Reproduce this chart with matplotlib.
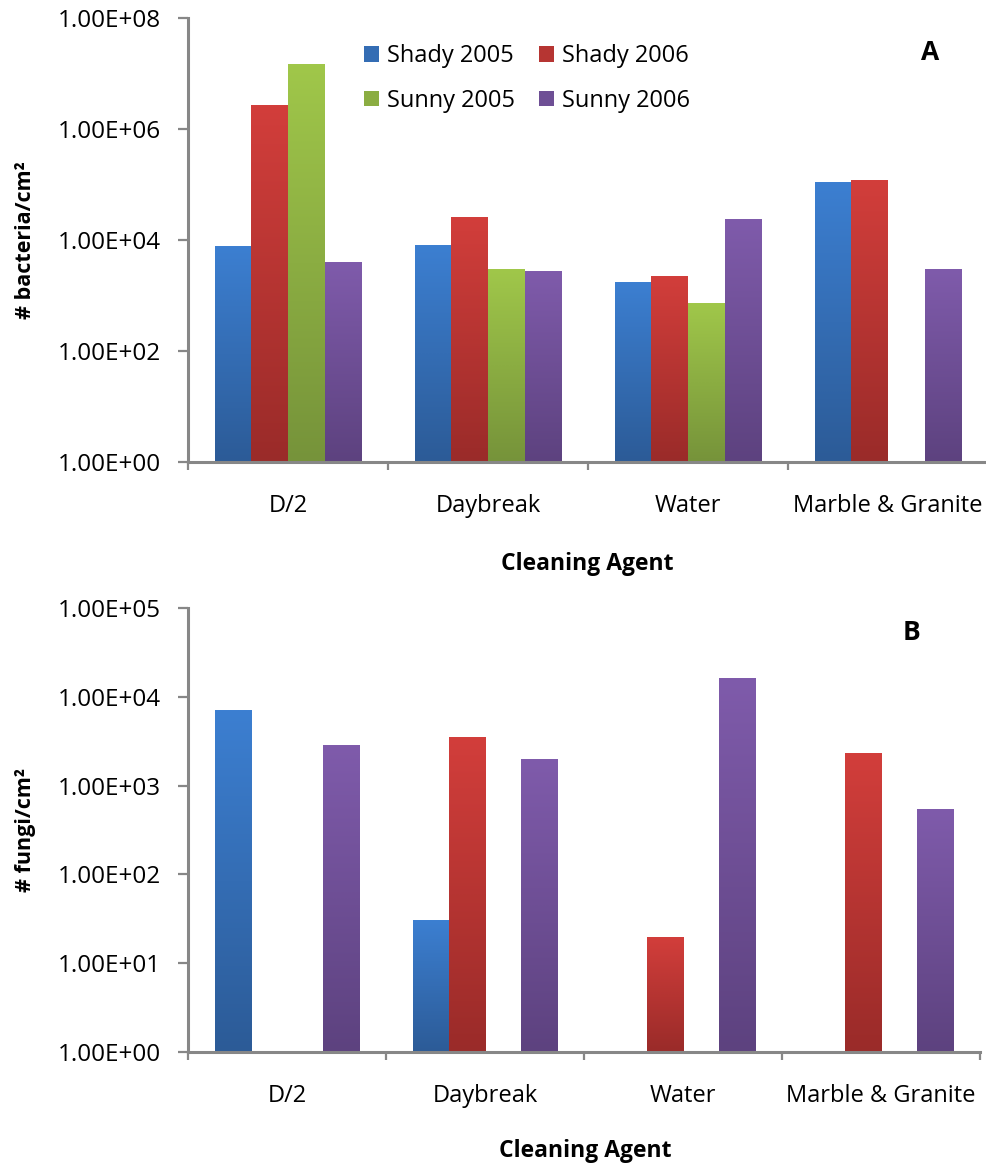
import numpy as np
import matplotlib
matplotlib.use("Agg")
import matplotlib.pyplot as plt
from matplotlib.image import AxesImage
from matplotlib.transforms import BboxTransformTo, TransformedBbox
from matplotlib.ticker import FixedLocator, FuncFormatter, NullFormatter
from matplotlib.colors import to_rgb

plt.rcParams['font.family'] = ['Open Sans', 'DejaVu Sans']

categories = ["D/2", "Daybreak", "Water", "Marble & Granite"]
series = ["Shady 2005", "Shady 2006", "Sunny 2005", "Sunny 2006"]

# bacteria per cm^2 (nan = no bar)
bacteria = {
    "Shady 2005": [7.5e3, 8.1e3, 1.7e3, 1.07e5],
    "Shady 2006": [2.6e6, 2.5e4, 2.2e3, 1.16e5],
    "Sunny 2005": [1.48e7, 2.9e3, 7.3e2, np.nan],
    "Sunny 2006": [4.0e3, 2.7e3, 2.3e4, 2.9e3],
}

# fungi per cm^2 (nan = no bar)
fungi = {
    "Shady 2005": [7.1e3, 30.6, np.nan, np.nan],
    "Shady 2006": [np.nan, 3.5e3, 19.7, 2.3e3],
    "Sunny 2005": [np.nan, np.nan, np.nan, np.nan],
    "Sunny 2006": [2.8e3, 1.95e3, 1.6e4, 535],
}

# (top colour, bottom colour) for each series' vertical gradient
gradients = {
    "Shady 2005": ("#3c7fd1", "#2c5b97"),
    "Shady 2006": ("#d23e3b", "#9a2b29"),
    "Sunny 2005": ("#a0c74a", "#76933a"),
    "Sunny 2006": ("#7f5bab", "#5d427f"),
}

AXIS_GREY = "#878787"
W, H = 987, 1167
TICK_FS = 17.5
CAT_FS = 17
LEGEND_FS = 17
YLABEL_FS = 15.5
XLABEL_FS = 16.5


def gradient_image(top, bottom, n=128):
    t = np.linspace(0, 1, n)[:, None]
    c0 = np.array(to_rgb(top))
    c1 = np.array(to_rgb(bottom))
    return (c0 * (1 - t) + c1 * t)[:, None, :]


def draw_panel(ax, data, ymax_exp, tick_step, ylabel, letter, letter_xy):
    x = np.arange(len(categories))
    w = 0.183
    offsets = (np.arange(len(series)) - 1.5) * w
    handles = {}
    for s, off in zip(series, offsets):
        vals = np.asarray(data[s], dtype=float)
        top_c, bot_c = gradients[s]
        mid = tuple((np.array(to_rgb(top_c)) + np.array(to_rgb(bot_c))) / 2)
        bars = ax.bar(x + off, vals - 1, bottom=1, width=w, color=mid,
                      linewidth=0, label=s, zorder=2)
        handles[s] = bars
        for b, v in zip(bars, vals):
            if np.isnan(v):
                continue
            tb = TransformedBbox(b.get_bbox(), ax.transData)
            im = AxesImage(ax, extent=(0, 1, 0, 1), origin="upper",
                           interpolation="bilinear",
                           transform=BboxTransformTo(tb))
            im.set_data(gradient_image(top_c, bot_c))
            im.set_zorder(3)
            im.set_clip_path(ax.patch)
            ax.add_artist(im)

    ax.set_yscale("log")
    ax.set_ylim(1, 10 ** ymax_exp)
    ax.set_xlim(-0.5, len(categories) - 0.5)

    ax.yaxis.set_major_locator(FixedLocator([10.0 ** e for e in range(0, ymax_exp + 1, tick_step)]))
    ax.yaxis.set_minor_locator(FixedLocator([]))
    ax.yaxis.set_major_formatter(FuncFormatter(lambda v, p: "%.2fE+%02d" % (1.0, round(np.log10(v)))))

    ax.xaxis.set_major_locator(FixedLocator(np.arange(len(categories) + 1) - 0.5))
    ax.xaxis.set_major_formatter(NullFormatter())
    ax.xaxis.set_minor_locator(FixedLocator(x))
    ax.set_xticklabels(categories, minor=True)

    for side in ("top", "right"):
        ax.spines[side].set_visible(False)
    for side in ("left", "bottom"):
        ax.spines[side].set_color(AXIS_GREY)
        ax.spines[side].set_linewidth(2.2)
        ax.spines[side].set_zorder(4)

    ax.tick_params(axis="y", which="major", direction="out", length=7, width=1.6,
                   color=AXIS_GREY, pad=12.5, labelsize=TICK_FS)
    ax.tick_params(axis="x", which="major", direction="out", length=6, width=1.6,
                   color=AXIS_GREY)
    ax.tick_params(axis="x", which="minor", length=0, pad=23, labelsize=CAT_FS)

    ax.set_ylabel(ylabel, fontsize=YLABEL_FS, fontweight="bold")
    ax.set_xlabel("Cleaning Agent", fontsize=XLABEL_FS, fontweight="bold")
    ax.text(letter_xy[0], letter_xy[1], letter, transform=ax.transAxes,
            fontsize=19, fontweight="bold", ha="center", va="center")
    return handles


fig = plt.figure(figsize=(W / 100, H / 100), dpi=100)

ax1 = fig.add_axes([188 / W, (H - 462) / H, 800 / W, 444 / H])
h = draw_panel(ax1, bacteria, 8, 2, "# bacteria/cm\u00b2", "A",
               ((930 - 188) / 800, (462 - 52) / 444))
ax1.yaxis.set_label_coords((36 - 188) / 800, 0.5)
ax1.xaxis.set_label_coords((587 - 188) / 800, -(552 - 462) / 444)
legend_order = ["Shady 2005", "Sunny 2005", "Shady 2006", "Sunny 2006"]
ax1.legend([h[s] for s in legend_order], legend_order,
           loc="upper left", bbox_to_anchor=((355 - 188) / 800, (462 - 35) / 444),
           ncol=2, frameon=False, fontsize=LEGEND_FS, handlelength=0.62, handleheight=0.62,
           handletextpad=0.35, columnspacing=1.0, labelspacing=0.85, borderaxespad=0)

ax2 = fig.add_axes([188 / W, (H - 1052) / H, 792 / W, 444 / H])
draw_panel(ax2, fungi, 5, 1, "# fungi/cm\u00b2", "B",
           ((912 - 188) / 792, (1052 - 633) / 444))
ax2.yaxis.set_label_coords((36 - 188) / 792, 0.5)
ax2.xaxis.set_label_coords((585 - 188) / 792, -(1139 - 1052) / 444)

fig.savefig("out.png", dpi=100, facecolor="white")
